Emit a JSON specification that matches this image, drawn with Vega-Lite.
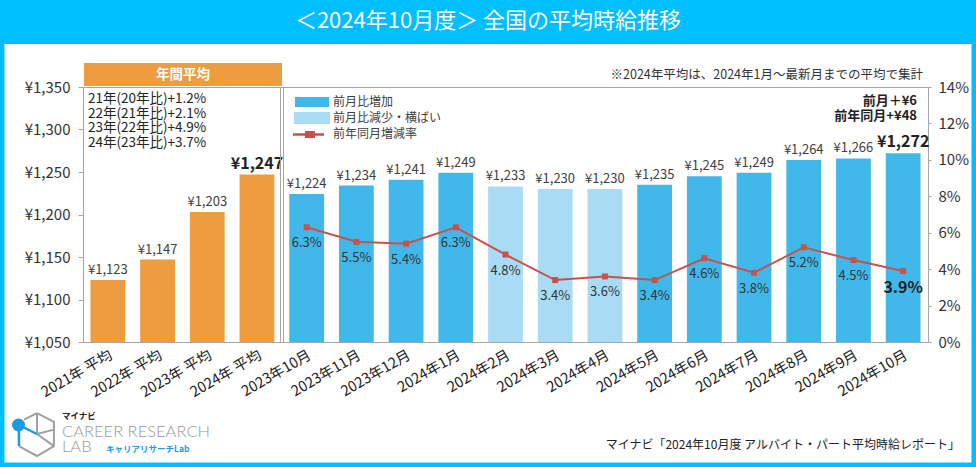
{
  "$schema": "https://vega.github.io/schema/vega-lite/v6.json",
  "width": 845,
  "height": 255,
  "autosize": {"type": "none"},
  "padding": {"left": 83, "top": 87, "right": 48, "bottom": 125},
  "background": "white",
  "config": {
    "font": "Noto Sans CJK JP",
    "view": {"stroke": "#A6A6A6", "strokeWidth": 1},
    "locale": {"number": {"decimal": ".", "thousands": ",", "grouping": [3], "currency": ["¥", ""]}},
    "axis": {"labelFont": "Noto Sans CJK JP", "labelColor": "#333333", "grid": false, "domain": false, "tickColor": "#A6A6A6", "labelOverlap": false},
    "axisY": {"labelOverlap": false, "labelFlush": false},
    "axisRight": {"labelOverlap": false, "labelFlush": false, "labelBound": false},
    "text": {"font": "Noto Sans CJK JP"}
  },
  "data": {
    "values": [
      {"label": "2021年 平均", "value": 1123, "kind": "年間平均", "rate": null},
      {"label": "2022年 平均", "value": 1147, "kind": "年間平均", "rate": null},
      {"label": "2023年 平均", "value": 1203, "kind": "年間平均", "rate": null},
      {"label": "2024年 平均", "value": 1247, "kind": "年間平均", "rate": null},
      {"label": "2023年10月", "value": 1224, "kind": "前月比増加", "rate": 0.063},
      {"label": "2023年11月", "value": 1234, "kind": "前月比増加", "rate": 0.055},
      {"label": "2023年12月", "value": 1241, "kind": "前月比増加", "rate": 0.054},
      {"label": "2024年1月", "value": 1249, "kind": "前月比増加", "rate": 0.063},
      {"label": "2024年2月", "value": 1233, "kind": "前月比減少・横ばい", "rate": 0.048},
      {"label": "2024年3月", "value": 1230, "kind": "前月比減少・横ばい", "rate": 0.034},
      {"label": "2024年4月", "value": 1230, "kind": "前月比減少・横ばい", "rate": 0.036},
      {"label": "2024年5月", "value": 1235, "kind": "前月比増加", "rate": 0.034},
      {"label": "2024年6月", "value": 1245, "kind": "前月比増加", "rate": 0.046},
      {"label": "2024年7月", "value": 1249, "kind": "前月比増加", "rate": 0.038},
      {"label": "2024年8月", "value": 1264, "kind": "前月比増加", "rate": 0.052},
      {"label": "2024年9月", "value": 1266, "kind": "前月比増加", "rate": 0.045},
      {"label": "2024年10月", "value": 1272, "kind": "前月比増加", "rate": 0.039}
    ]
  },
  "layer": [
    {
      "data": {"values": [{}]},
      "mark": {"type": "rect", "color": "#00BEFF"},
      "encoding": {"x": {"value": -83}, "x2": {"value": 893}, "y": {"value": -87}, "y2": {"value": -43}}
    },
    {
      "data": {"values": [{}]},
      "mark": {"type": "rect", "fillOpacity": 0, "stroke": "#00BEFF", "strokeWidth": 4.5},
      "encoding": {"x": {"value": -80.75}, "x2": {"value": 890.75}, "y": {"value": -60}, "y2": {"value": 377.75}}
    },
    {
      "data": {"values": [{}]},
      "mark": {"type": "text", "text": "＜2024年10月度＞ 全国の平均時給推移", "color": "white", "fontSize": 22, "align": "center", "baseline": "middle"},
      "encoding": {"x": {"value": 405}, "y": {"value": -66}}
    },
    {
      "layer": [
        {
          "mark": {"type": "bar"},
          "encoding": {
            "x": {"field": "label", "type": "nominal", "sort": null,
                  "scale": {"paddingInner": 0.3, "paddingOuter": 0.15},
                  "axis": {"title": null, "labelAngle": -30, "labelFontSize": 14.5, "labelColor": "#222222", "ticks": false, "labelPadding": 6}},
            "y": {"field": "value", "type": "quantitative",
                  "scale": {"domain": [1050, 1350], "zero": false, "nice": false},
                  "axis": {"orient": "left", "title": null, "values": [1050, 1100, 1150, 1200, 1250, 1300, 1350], "format": "$,.0f", "tickSize": 5, "labelFontSize": 15, "labelPadding": 8, "labelOverlap": false, "labelFlush": false}},
            "y2": {"datum": 1050},
            "color": {"field": "kind", "type": "nominal",
                      "scale": {"domain": ["年間平均", "前月比増加", "前月比減少・横ばい"], "range": ["#ED9C40", "#41B8EA", "#A9DBF5"]},
                      "legend": null}
          }
        },
        {
          "transform": [{"filter": "datum.label !== '2024年 平均' && datum.label !== '2024年10月'"}],
          "mark": {"type": "text", "baseline": "alphabetic", "dy": -6, "fontSize": 13, "color": "#404040"},
          "encoding": {
            "x": {"field": "label", "type": "nominal", "sort": null},
            "y": {"field": "value", "type": "quantitative"},
            "text": {"field": "value", "type": "quantitative", "format": "$,.0f"}
          }
        },
        {
          "transform": [{"filter": "datum.label === '2024年 平均' || datum.label === '2024年10月'"}],
          "mark": {"type": "text", "baseline": "alphabetic", "dy": -6, "fontSize": 16, "fontWeight": "bold", "color": "#222222"},
          "encoding": {
            "x": {"field": "label", "type": "nominal", "sort": null},
            "y": {"field": "value", "type": "quantitative"},
            "text": {"field": "value", "type": "quantitative", "format": "$,.0f"}
          }
        }
      ]
    },
    {
      "transform": [{"filter": "isValid(datum.rate)"}],
      "encoding": {
        "x": {"field": "label", "type": "nominal", "sort": null},
        "y": {"field": "rate", "type": "quantitative",
              "scale": {"domain": [0, 0.14], "nice": false, "zero": true},
              "axis": {"orient": "right", "title": null, "values": [0, 0.02, 0.04, 0.06, 0.08, 0.1, 0.12, 0.14], "format": ".0%", "tickSize": 3, "labelFontSize": 15, "labelPadding": 7, "labelOverlap": false, "labelFlush": false, "labelBound": false}}
      },
      "layer": [
        {
          "mark": {"type": "line", "color": "#C9514B", "strokeWidth": 2}
        },
        {
          "mark": {"type": "point", "shape": "square", "filled": true, "size": 36, "color": "#C9514B", "opacity": 1}
        },
        {
          "transform": [{"filter": "datum.label !== '2024年10月'"}],
          "mark": {"type": "text", "baseline": "middle", "dy": 16, "fontSize": 13, "color": "#333333"},
          "encoding": {
            "text": {"field": "rate", "type": "quantitative", "format": ".1%"}
          }
        },
        {
          "transform": [{"filter": "datum.label === '2024年10月'"}],
          "mark": {"type": "text", "baseline": "middle", "dy": 17, "fontSize": 16, "fontWeight": "bold", "color": "#222222"},
          "encoding": {
            "text": {"field": "rate", "type": "quantitative", "format": ".1%"}
          }
        }
      ]
    },
    {
      "data": {"values": [{}]},
      "mark": {"type": "rect", "color": "#ED9C40"},
      "encoding": {"x": {"value": 1}, "x2": {"value": 199}, "y": {"value": -24}, "y2": {"value": -1}}
    },
    {
      "data": {"values": [{}]},
      "mark": {"type": "text", "text": "年間平均", "color": "white", "fontSize": 13.5, "fontWeight": "bold", "align": "center", "baseline": "middle"},
      "encoding": {"x": {"value": 100}, "y": {"value": -12.5}}
    },
    {
      "data": {"values": [{}]},
      "mark": {"type": "rule", "color": "#A6A6A6", "strokeWidth": 1},
      "encoding": {"x": {"value": 197.5}, "y": {"value": 0}, "y2": {"value": 255}}
    },
    {
      "data": {"values": [{}]},
      "mark": {"type": "rule", "color": "#A6A6A6", "strokeWidth": 1},
      "encoding": {"x": {"value": 200.5}, "y": {"value": 0}, "y2": {"value": 255}}
    },
    {
      "data": {"values": [{}]},
      "mark": {"type": "text", "text": "21年(20年比)+1.2%", "color": "#222222", "fontSize": 13.5, "align": "left", "baseline": "middle"},
      "encoding": {"x": {"value": 5}, "y": {"value": 12}}
    },
    {
      "data": {"values": [{}]},
      "mark": {"type": "text", "text": "22年(21年比)+2.1%", "color": "#222222", "fontSize": 13.5, "align": "left", "baseline": "middle"},
      "encoding": {"x": {"value": 5}, "y": {"value": 26.7}}
    },
    {
      "data": {"values": [{}]},
      "mark": {"type": "text", "text": "23年(22年比)+4.9%", "color": "#222222", "fontSize": 13.5, "align": "left", "baseline": "middle"},
      "encoding": {"x": {"value": 5}, "y": {"value": 41.4}}
    },
    {
      "data": {"values": [{}]},
      "mark": {"type": "text", "text": "24年(23年比)+3.7%", "color": "#222222", "fontSize": 13.5, "align": "left", "baseline": "middle"},
      "encoding": {"x": {"value": 5}, "y": {"value": 56.1}}
    },
    {
      "data": {"values": [{}]},
      "mark": {"type": "text", "text": "※2024年平均は、2024年1月～最新月までの平均で集計", "color": "#333333", "fontSize": 12.5, "align": "right", "baseline": "middle"},
      "encoding": {"x": {"value": 840}, "y": {"value": -12}}
    },
    {
      "data": {"values": [{}]},
      "mark": {"type": "text", "text": "前月＋¥6", "color": "#222222", "fontSize": 13, "fontWeight": "bold", "align": "right", "baseline": "middle"},
      "encoding": {"x": {"value": 834}, "y": {"value": 14}}
    },
    {
      "data": {"values": [{}]},
      "mark": {"type": "text", "text": "前年同月+¥48", "color": "#222222", "fontSize": 13, "fontWeight": "bold", "align": "right", "baseline": "middle"},
      "encoding": {"x": {"value": 834}, "y": {"value": 28.5}}
    },
    {
      "data": {"values": [{}]},
      "mark": {"type": "rect", "color": "#41B8EA"},
      "encoding": {"x": {"value": 212}, "x2": {"value": 246}, "y": {"value": 10}, "y2": {"value": 20}}
    },
    {
      "data": {"values": [{}]},
      "mark": {"type": "rect", "color": "#A9DBF5"},
      "encoding": {"x": {"value": 211}, "x2": {"value": 247}, "y": {"value": 25}, "y2": {"value": 37}}
    },
    {
      "data": {"values": [{}]},
      "mark": {"type": "rule", "color": "#C9514B", "strokeWidth": 2.5},
      "encoding": {"x": {"value": 210}, "x2": {"value": 241}, "y": {"value": 47.5}}
    },
    {
      "data": {"values": [{}]},
      "mark": {"type": "rect", "color": "#C9514B"},
      "encoding": {"x": {"value": 222}, "x2": {"value": 232}, "y": {"value": 44}, "y2": {"value": 51}}
    },
    {
      "data": {"values": [{}]},
      "mark": {"type": "text", "text": "前月比増加", "color": "#404040", "fontSize": 12, "align": "left", "baseline": "middle"},
      "encoding": {"x": {"value": 250}, "y": {"value": 15}}
    },
    {
      "data": {"values": [{}]},
      "mark": {"type": "text", "text": "前月比減少・横ばい", "color": "#404040", "fontSize": 12, "align": "left", "baseline": "middle"},
      "encoding": {"x": {"value": 250}, "y": {"value": 30.5}}
    },
    {
      "data": {"values": [{}]},
      "mark": {"type": "text", "text": "前年同月増減率", "color": "#404040", "fontSize": 12, "align": "left", "baseline": "middle"},
      "encoding": {"x": {"value": 250}, "y": {"value": 47}}
    },
    {
      "data": {"values": [{}]},
      "mark": {"type": "text", "text": "マイナビ「2024年10月度 アルバイト・パート平均時給レポート」", "color": "#222222", "fontSize": 12, "align": "right", "baseline": "middle"},
      "encoding": {"x": {"value": 877}, "y": {"value": 358}}
    },
    {
      "data": {"values": [{}]},
      "mark": {"type": "text", "text": "マイナビ", "color": "#222222", "fontSize": 8.5, "fontWeight": "bold", "align": "left", "baseline": "middle"},
      "encoding": {"x": {"value": -21}, "y": {"value": 329}}
    },
    {
      "data": {"values": [{}]},
      "mark": {"type": "text", "text": "CAREER RESEARCH", "font": "Lato", "fontWeight": 300, "color": "#9A9A9A", "fontSize": 16.5, "align": "left", "baseline": "middle"},
      "encoding": {"x": {"value": -21}, "y": {"value": 345}}
    },
    {
      "data": {"values": [{}]},
      "mark": {"type": "text", "text": "LAB", "font": "Lato", "fontWeight": 300, "color": "#9A9A9A", "fontSize": 16.5, "align": "left", "baseline": "middle"},
      "encoding": {"x": {"value": -21}, "y": {"value": 360}}
    },
    {
      "data": {"values": [{}]},
      "mark": {"type": "text", "text": "キャリアリサーチLab", "color": "#1E9BE0", "fontSize": 8.5, "fontWeight": "bold", "align": "left", "baseline": "middle"},
      "encoding": {"x": {"value": 23}, "y": {"value": 362}}
    },
    {
      "data": {"values": [{}]},
      "mark": {"type": "point", "shape": "M0.09,-0.95L0.86,-0.55L0.86,0.55L0.09,1L-0.73,0.55M0.09,-0.95L-0.5,-0.65M0.09,-0.95L0.09,0L0.86,0.55M0.09,0L0.86,-0.2", "filled": false, "size": 1936, "stroke": "#A0A0A0", "strokeWidth": 2, "opacity": 1},
      "encoding": {"x": {"value": -48}, "y": {"value": 347}}
    },
    {
      "data": {"values": [{}]},
      "mark": {"type": "point", "shape": "M-0.75,-0.41L0.09,0M-0.73,-0.18L-0.73,0.55", "filled": false, "size": 1936, "stroke": "#1E9BE0", "strokeWidth": 2.5, "opacity": 1},
      "encoding": {"x": {"value": -48}, "y": {"value": 347}}
    },
    {
      "data": {"values": [{}]},
      "mark": {"type": "point", "shape": "circle", "filled": true, "size": 169, "color": "#1E9BE0", "opacity": 1},
      "encoding": {"x": {"value": -64.5}, "y": {"value": 338}}
    }
  ],
  "resolve": {"scale": {"y": "independent"}}
}
